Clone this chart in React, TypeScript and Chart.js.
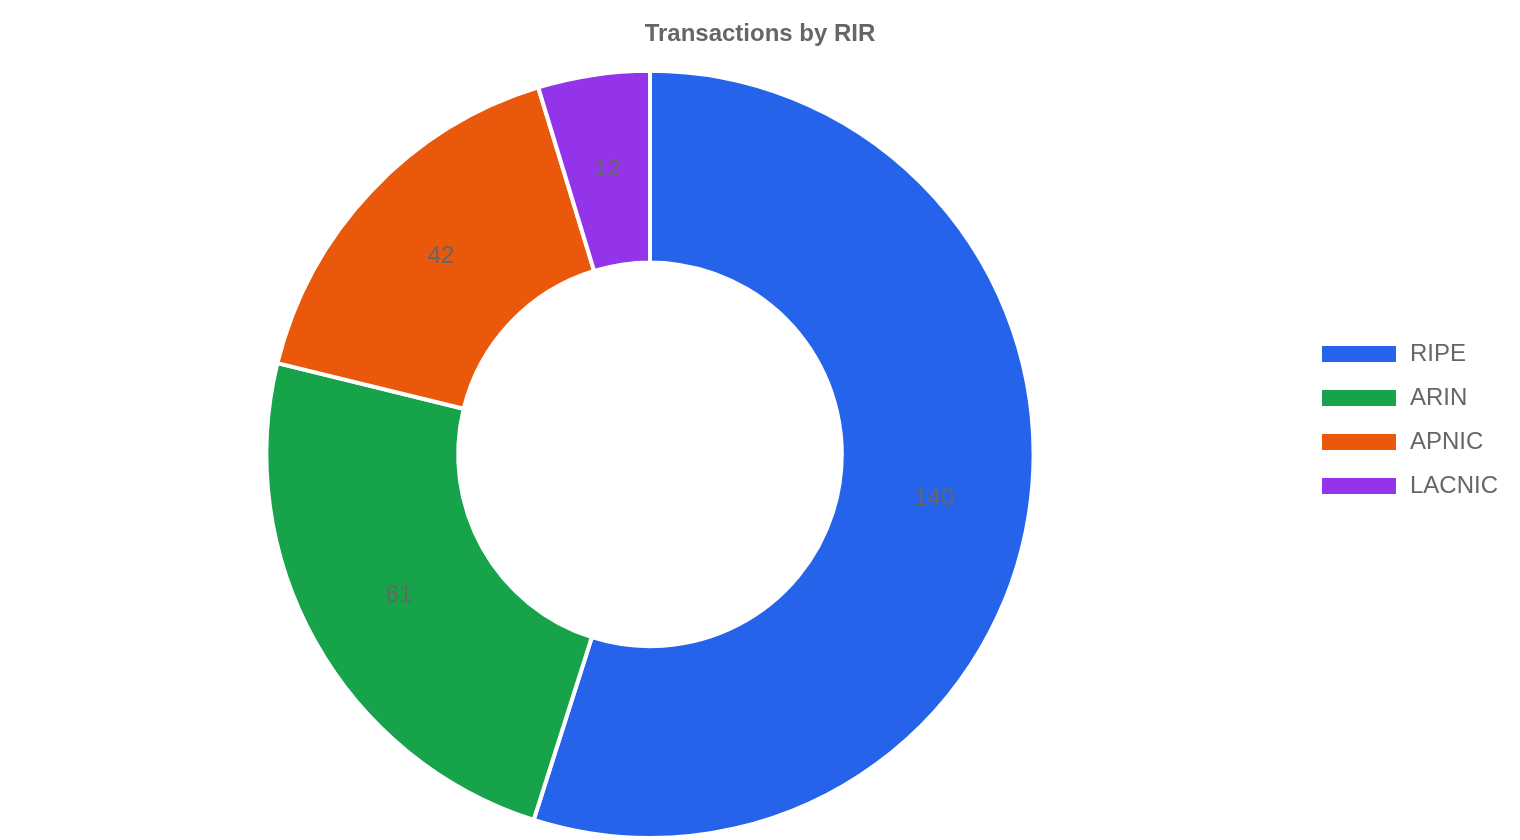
import { useEffect, useRef } from 'react';
import { Chart, registerables, Plugin } from 'chart.js';

Chart.register(...registerables);

const regions = ['RIPE', 'ARIN', 'APNIC', 'LACNIC'];
const transactions = [140, 61, 42, 12];
const sliceColors = ['#2563eb', '#16a34a', '#ea580c', '#9333ea'];

// draws the count in the middle of each slice
const sliceLabels: Plugin<'doughnut'> = {
  id: 'sliceLabels',
  afterInit(chart) {
    // give the legend a little extra room on its right side
    const legend: any = (chart as any).legend;
    if (legend && !legend._wider) {
      const fit = legend.fit;
      legend.fit = function () {
        fit.call(this);
        this.width += 12;
      };
      legend._wider = true;
    }
  },
  afterDatasetsDraw(chart) {
    const { ctx } = chart;
    const meta = chart.getDatasetMeta(0);
    ctx.save();
    ctx.font = '24px "Liberation Sans", Arial, sans-serif';
    ctx.fillStyle = '#666';
    ctx.textAlign = 'center';
    ctx.textBaseline = 'middle';
    meta.data.forEach((arc, i) => {
      const pos = arc.tooltipPosition(false);
      ctx.fillText(String(transactions[i]), pos.x, pos.y);
    });
    ctx.restore();
  },
};

export default function App() {
  const chartRef = useRef<HTMLCanvasElement>(null);
  const chartInstance = useRef<Chart | null>(null);

  useEffect(() => {
    document.body.style.margin = '0';
    if (!chartRef.current) return;
    if (chartInstance.current) chartInstance.current.destroy();

    chartInstance.current = new Chart(chartRef.current, {
      type: 'doughnut',
      data: {
        labels: regions,
        datasets: [
          {
            data: transactions,
            backgroundColor: sliceColors,
            borderColor: '#fff',
            borderWidth: 4,
          },
        ],
      },
      options: {
        responsive: true,
        maintainAspectRatio: false,
        animation: false,
        cutout: '50%',
        plugins: {
          title: {
            display: true,
            text: 'Transactions by RIR',
            color: '#666',
            font: { family: '"Liberation Sans", Arial, sans-serif', size: 24, weight: 'bold' },
            padding: 20,
          },
          legend: {
            position: 'right',
            labels: {
              color: '#666',
              font: { family: '"Liberation Sans", Arial, sans-serif', size: 24 },
              boxWidth: 78,
              boxHeight: 20,
              padding: 20,
            },
          },
          tooltip: { enabled: false },
        },
      },
      plugins: [sliceLabels],
    });

    return () => {
      if (chartInstance.current) {
        chartInstance.current.destroy();
        chartInstance.current = null;
      }
    };
  }, []);

  return (
    <div style={{ width: 1520, height: 840, position: 'relative' }}>
      <canvas ref={chartRef} />
    </div>
  );
}
